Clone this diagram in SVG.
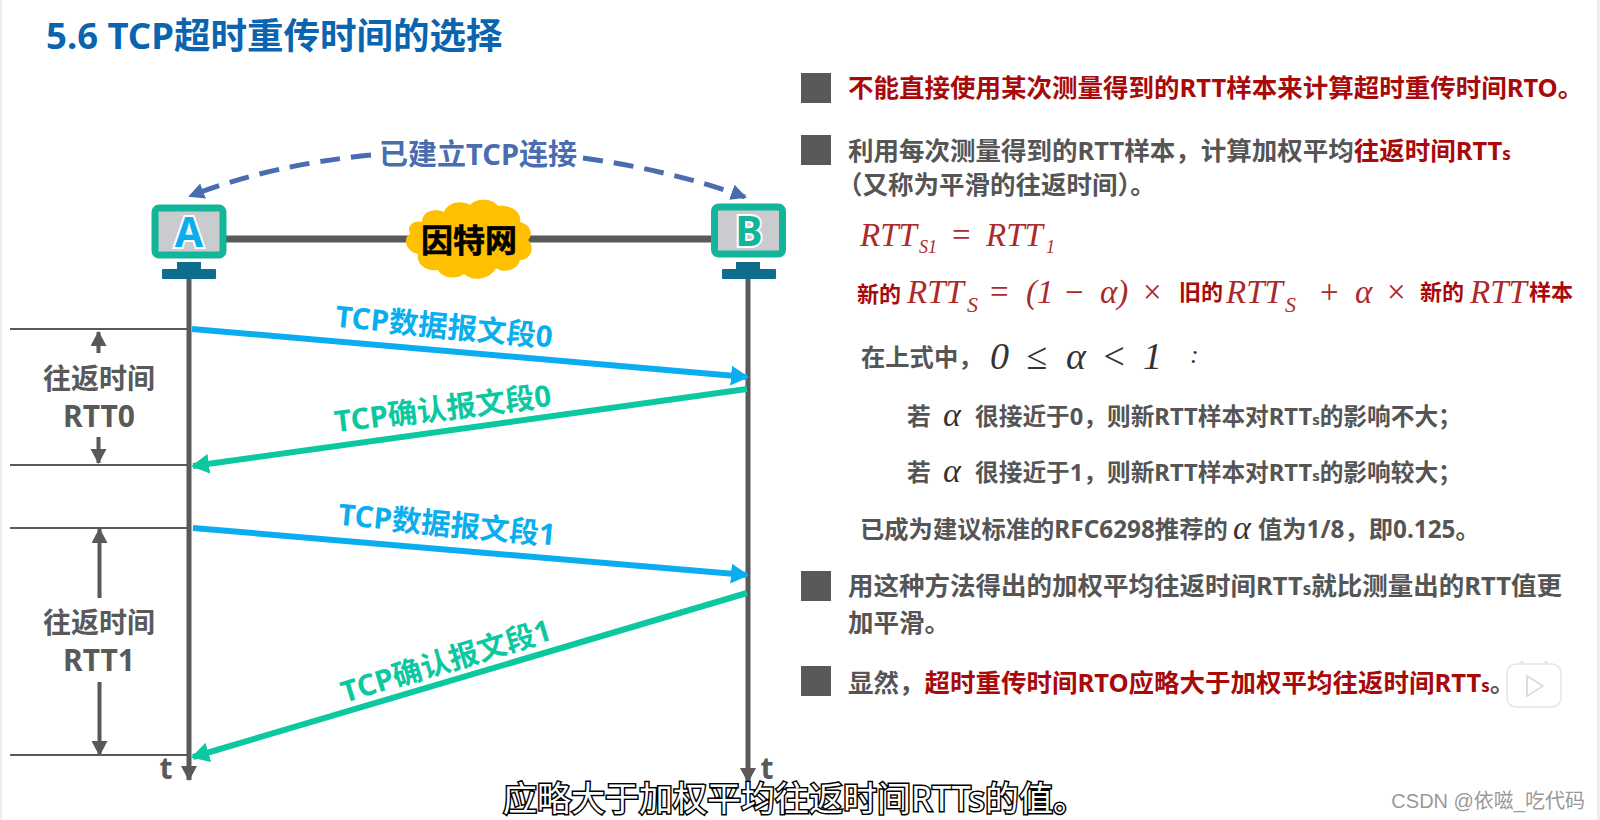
<svg xmlns="http://www.w3.org/2000/svg" width="1600" height="820" viewBox="0 0 1600 820">
<style>
text{font-family:"Noto Sans","Noto Sans CJK SC",sans-serif}
.b{font-weight:700}
.body{font-size:25.5px;font-weight:700;fill:#555}
.sm{font-size:23.7px;font-weight:700;fill:#555}
.sm2{font-size:24.3px;font-weight:700;fill:#555}
.red{fill:#a80a0a}
.f{font-family:"Liberation Serif",serif;font-style:italic;fill:#ab2a2a;font-size:33px}
.up{font-style:normal}
.s1{font-size:18px}.s2{font-size:22px}
.fk{font-family:"Liberation Serif",serif;font-style:italic;fill:#333;font-size:38px}
.al{font-size:34px}
.rc{font-size:22px;font-weight:700;fill:#a80a0a}
.g{font-size:28px;font-weight:700;fill:#595959;text-anchor:middle}
.g2{font-size:30px}
.lab{font-size:29.500px;font-weight:700;text-anchor:middle}
.blu{fill:#0aaeef}.grn{fill:#0cc8a0}
.mon{fill:#c9cbcf;stroke:#12b59a;stroke-width:7}
.st{fill:#0e6d8c}
.life{stroke:#595959;stroke-width:5;fill:none}
.th{stroke:#595959;stroke-width:2;fill:none}
.dbl{stroke:#595959;stroke-width:4;fill:none}
.sq{fill:#595959}
</style>
<defs>
<marker id="ag" markerUnits="userSpaceOnUse" markerWidth="20" markerHeight="20" refX="14" refY="8" orient="auto"><path d="M0 0L15 8L0 16z" fill="#595959"/></marker>
<marker id="ab" markerUnits="userSpaceOnUse" markerWidth="22" markerHeight="22" refX="16" refY="10" orient="auto"><path d="M0 0L18 10L0 20z" fill="#0aaeef"/></marker>
<marker id="agr" markerUnits="userSpaceOnUse" markerWidth="22" markerHeight="22" refX="16" refY="10" orient="auto"><path d="M0 0L18 10L0 20z" fill="#0cc8a0"/></marker>
<marker id="ad" markerUnits="userSpaceOnUse" markerWidth="22" markerHeight="22" refX="14" refY="8" orient="auto"><path d="M0 0L16 8L0 16z" fill="#4a6cb0"/></marker>
</defs>
<rect width="1600" height="820" fill="#fff"/>
<rect width="2" height="820" fill="#eee"/>
<rect x="1597" width="3" height="820" fill="#eee"/>
<text id="title" x="46" y="49" class="b" font-size="36.500" fill="#0a64b0">5.6 TCP超时重传时间的选择</text>
<g id="connectors">
<path class="life" d="M226 239H711" style="stroke-width:7"/>
<path class="life" d="M189 279V780" marker-end="url(#ag)"/>
<path class="life" d="M748 279V782" marker-end="url(#ag)"/>
<path d="M371 155Q270 165 190 196" fill="none" stroke="#4a6cb0" stroke-width="5" stroke-dasharray="20 11" marker-end="url(#ad)"/>
<path d="M583 158Q670 170 745 197" fill="none" stroke="#4a6cb0" stroke-width="5" stroke-dasharray="20 11" marker-end="url(#ad)"/>
<path class="th" d="M10 329H189M10 465H189M10 528H189M10 755H189"/>
<path class="dbl" d="M98.500 353V332" marker-end="url(#ag)"/>
<path class="dbl" d="M98.500 437V463" marker-end="url(#ag)"/>
<path class="dbl" d="M99.500 598V529" marker-end="url(#ag)"/>
<path class="dbl" d="M99.500 682V755" marker-end="url(#ag)"/>
<path d="M192 329L747 377" stroke="#0aaeef" stroke-width="6" fill="none" marker-end="url(#ab)"/>
<path d="M747 389L193 466" stroke="#0cc8a0" stroke-width="6" fill="none" marker-end="url(#agr)"/>
<path d="M193 528L747 575" stroke="#0aaeef" stroke-width="6" fill="none" marker-end="url(#ab)"/>
<path d="M747 593L193 757" stroke="#0cc8a0" stroke-width="6" fill="none" marker-end="url(#agr)"/>
</g>
<g id="nodeA">
<rect class="mon" x="155" y="208" width="68" height="47" rx="4"/>
<rect class="st" x="177" y="262" width="24" height="8"/><rect class="st" x="162" y="269" width="54" height="10" rx="1"/>
<text x="189" y="247" text-anchor="middle" class="b" font-size="41" fill="#0aaeef" stroke="#fff" stroke-width="4" paint-order="stroke">A</text>
</g>
<g id="nodeB">
<rect class="mon" x="714.500" y="207" width="68" height="47" rx="4"/>
<rect class="st" x="736" y="262" width="24" height="8"/><rect class="st" x="722" y="269" width="54" height="10" rx="1"/>
<text x="749" y="246" text-anchor="middle" class="b" font-size="41" fill="#12b59a" stroke="#fff" stroke-width="4" paint-order="stroke">B</text>
</g>
<g id="cloud">
<path d="M422 222C422 210 436 208 444 212C448 202 462 200 470 205C476 198 492 198 498 206C510 204 522 212 520 222C530 224 534 234 528 240C536 248 530 260 520 260C518 270 504 274 496 268C490 280 472 282 464 274C456 280 442 278 438 270C426 272 416 264 418 254C406 252 402 238 410 234C406 226 414 220 422 222Z" fill="#ffc000"/>
<text x="469" y="252" text-anchor="middle" font-size="32" class="b" fill="#000" stroke="#000" stroke-width=".6">因特网</text>
</g>
<text id="conn-label" x="478" y="165" text-anchor="middle" font-size="29" class="b" fill="#4a6cb0" stroke="#fff" stroke-width="5" paint-order="stroke">已建立TCP连接</text>
<g id="rtt-labels">
<text class="g" x="99" y="389">往返时间</text><text class="g g2" x="99" y="427">RTT0</text>
<text class="g" x="99" y="633">往返时间</text><text class="g g2" x="99" y="671">RTT1</text>
<text class="g g2" x="166" y="779">t</text><text class="g g2" x="767" y="779">t</text>
</g>
<g id="seg-labels">
<text class="lab blu" transform="translate(443 337) rotate(5.4)">TCP数据报文段0</text>
<text class="lab grn" transform="translate(444 419) rotate(-7)">TCP确认报文段0</text>
<text class="lab blu" transform="translate(446 535) rotate(5.4)">TCP数据报文段1</text>
<text class="lab grn" transform="translate(449 671) rotate(-17)">TCP确认报文段1</text>
</g>
<g id="bullets">
<rect class="sq" x="801" y="73" width="30" height="30"/>
<rect class="sq" x="801" y="135" width="30" height="30"/>
<rect class="sq" x="801" y="571" width="30" height="30"/>
<rect class="sq" x="801" y="666" width="30" height="30"/>
</g>
<g id="text-right">
<text class="body red" x="848" y="97">不能直接使用某次测量得到的RTT样本来计算超时重传时间RTO。</text>
<text class="body" x="848" y="160">利用每次测量得到的RTT样本，计算加权平均<tspan class="red">往返时间RTT<tspan font-size="17">s</tspan></tspan></text>
<text class="body" x="837" y="194">（又称为平滑的往返时间）。</text>
<text class="f" x="860" y="246">RTT</text><text class="f s1" x="919" y="253">S1</text>
<text class="f up" x="952" y="246">=</text>
<text class="f" x="986" y="246">RTT</text><text class="f s1" x="1046" y="253">1</text>
<text class="rc" x="857" y="302">新的</text>
<text class="f" x="907" y="303">RTT</text><text class="f s2" x="967" y="312">S</text>
<text class="f up" x="990" y="303">=</text>
<text class="f" x="1026" y="303">(1</text><text class="f up" x="1065" y="303">−</text><text class="f" x="1100" y="303">α)</text>
<text class="f up" x="1143" y="303">×</text>
<text class="rc" x="1179" y="300">旧的</text>
<text class="f" x="1226" y="303">RTT</text><text class="f s2" x="1285" y="312">S</text>
<text class="f up" x="1320" y="303">+</text><text class="f" x="1355" y="303">α</text>
<text class="f up" x="1387" y="303">×</text>
<text class="rc" x="1420" y="300">新的</text>
<text class="f" x="1470" y="303">RTT</text>
<text class="rc" x="1529" y="300">样本</text>
<text class="sm2" x="861" y="366">在上式中，</text>
<text class="fk" x="990" y="369">0</text><text class="fk up" x="1026" y="369">≤</text><text class="fk" x="1066" y="369">α</text><text class="fk up" x="1101" y="369">&lt;</text><text class="fk" x="1143" y="369">1</text>
<text class="fk up" x="1190" y="363" style="font-size:26px">:</text>
<text class="sm" x="907" y="425">若</text><text class="fk al" x="943" y="426">α</text>
<text class="sm" x="975" y="425">很接近于0，则新RTT样本对RTT<tspan font-size="15">s</tspan>的影响不大；</text>
<text class="sm" x="907" y="481">若</text><text class="fk al" x="943" y="482">α</text>
<text class="sm" x="975" y="481">很接近于1，则新RTT样本对RTT<tspan font-size="15">s</tspan>的影响较大；</text>
<text class="sm2" x="860" y="538">已成为建议标准的RFC6298推荐的</text><text class="fk al" x="1233" y="539">α</text>
<text class="sm2" x="1258" y="538">值为1/8，即0.125。</text>
<text class="body" x="848" y="595">用这种方法得出的加权平均往返时间RTT<tspan font-size="17">s</tspan>就比测量出的RTT值更</text>
<text class="body" x="848" y="632">加平滑。</text>
<text class="body" x="848" y="692">显然，<tspan class="red">超时重传时间RTO应略大于加权平均往返时间RTT<tspan font-size="17">s</tspan></tspan>。</text>
</g>
<g id="play">
<path d="M1522 663L1526 670M1546 663L1542 670" stroke="#e4e4e4" stroke-width="4" stroke-linecap="round"/>
<rect x="1507" y="664" width="54" height="43" rx="9" fill="#fff" stroke="#e6e6e6" stroke-width="1.500"/>
<path d="M1527 676L1543 686L1527 696z" fill="#fff" stroke="#dedede" stroke-width="2" stroke-linejoin="round"/>
</g>
<text id="subtitle" x="503" y="811" font-size="34" fill="#fff" stroke="#000" stroke-width="3" paint-order="stroke">应略大于加权平均往返时间RTTs的值。</text>
<text id="wm" x="1585" y="808" text-anchor="end" font-size="20" fill="#999" style="font-family:'Liberation Sans','Noto Sans CJK SC',sans-serif">CSDN @依嗞_吃代码</text>
</svg>
